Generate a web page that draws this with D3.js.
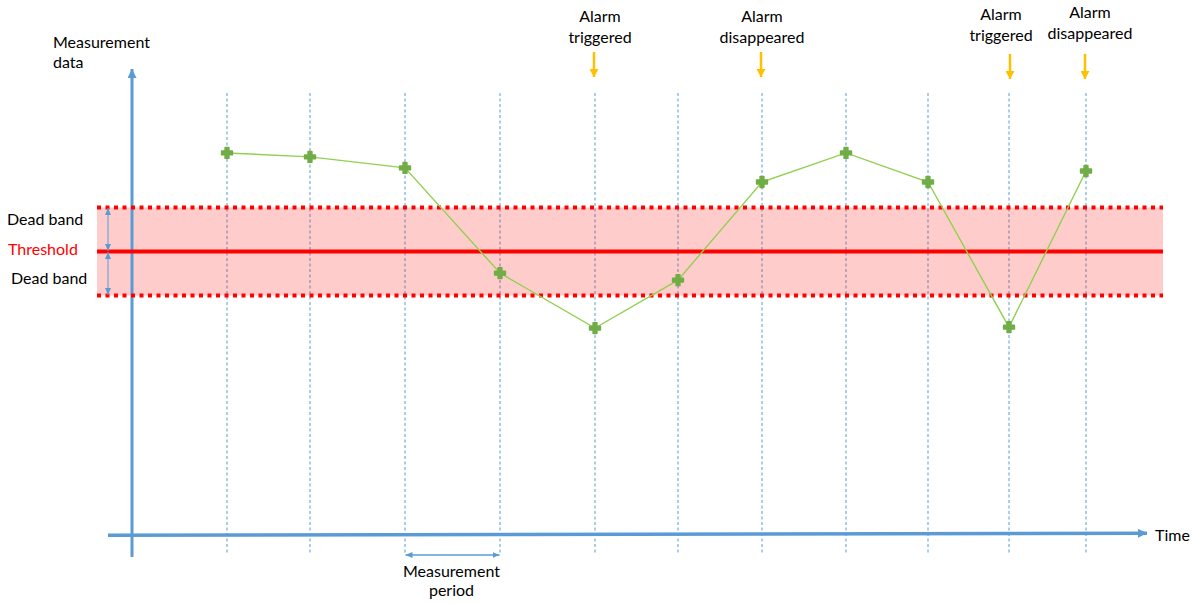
<!DOCTYPE html>
<html>
<head>
<meta charset="utf-8">
<script src="https://cdn.jsdelivr.net/npm/d3@7"></script>
<style>
  html, body { margin: 0; padding: 0; background: #fff; }
  svg { display: block; }
  text { font-family: Lato, "Open Sans", sans-serif; font-size: 16px; fill: #000; }
</style>
</head>
<body>
<svg id="chart" width="1197" height="603"></svg>
<script>
// ---- data ----
const sampleTimes = [96, 179, 274, 369, 464, 547, 631, 715, 797, 878, 955];
const measurementValues = [82.4, 81.5, 79.0, 55.1, 42.6, 53.5, 75.8, 82.4, 75.8, 42.8, 78.3];
const thresholdValue = 60;
const deadBand = 10;
const alarmSampleIndex = [4, 6, 9, 10];
const alarmLabels = [["Alarm", "triggered"], ["Alarm", "disappeared"], ["Alarm", "triggered"], ["Alarm", "disappeared"]];
const periodSamples = [2, 3];

// ---- layout ----
const W = 1197, H = 603;
const blue = "#5B9BD5", red = "#FF0000", green = "#70AD47", lineGreen = "#92D050", orange = "#FFC000";
const svg = d3.select("#chart");

const x = d3.scaleLinear().domain([0, 1000]).range([131, 1131]);
const y = d3.scaleLinear().domain([0, 100]).range([515.5, 75.5]);

const axisX0 = 132, axisYBottom = 557, axisYTop = 68;
const xAxisLeft = 108, xAxisRight = 1148, xAxisYL = 535.3, xAxisYR = 533.3;
const bandLeft = 97, bandRight = 1163;
const vTop = 93, vBottom = 555;

const defs = svg.append("defs");
function marker(id, color, w, h, orient) {
  defs.append("marker").attr("id", id)
    .attr("viewBox", `0 0 ${w} ${h}`).attr("refX", w).attr("refY", h / 2)
    .attr("markerUnits", "userSpaceOnUse")
    .attr("markerWidth", w).attr("markerHeight", h)
    .attr("orient", orient)
    .append("path").attr("d", `M0,0L${w},${h / 2}L0,${h}Z`).attr("fill", color);
}
marker("arrBig", blue, 9, 9, "auto");
marker("arrSmall", blue, 7, 6, "auto-start-reverse");
marker("arrOrange", orange, 8, 9, "auto");

// vertical dashed lines
svg.append("g").selectAll("line").data(sampleTimes).join("line")
  .attr("x1", d => x(d)).attr("x2", d => x(d))
  .attr("y1", vTop).attr("y2", vBottom)
  .attr("stroke", blue).attr("stroke-width", 1).attr("stroke-dasharray", "3,2.5");

// dead band area
const bandHi = y(thresholdValue + deadBand), bandLo = y(thresholdValue - deadBand), thrY = y(thresholdValue);
svg.append("rect").attr("x", bandLeft).attr("y", bandHi)
  .attr("width", bandRight - bandLeft).attr("height", bandLo - bandHi)
  .attr("fill", red).attr("fill-opacity", 0.2);

// y axis (drawn above band)
svg.append("line").attr("x1", axisX0).attr("x2", axisX0)
  .attr("y1", axisYBottom).attr("y2", axisYTop + 1)
  .attr("stroke", blue).attr("stroke-width", 3).attr("marker-end", "url(#arrBig)");

// dotted band edges
[thresholdValue + deadBand, thresholdValue - deadBand].forEach(v => {
  svg.append("line").attr("x1", bandLeft).attr("x2", bandRight)
    .attr("y1", y(v)).attr("y2", y(v))
    .attr("stroke", red).attr("stroke-width", 4).attr("stroke-dasharray", "4,4.5");
});
// threshold
svg.append("line").attr("x1", bandLeft).attr("x2", bandRight)
  .attr("y1", thrY).attr("y2", thrY)
  .attr("stroke", red).attr("stroke-width", 4);

// dead band arrows
[[bandHi, thrY], [thrY, bandLo]].forEach(([a, b]) => {
  svg.append("line").attr("x1", 108).attr("x2", 108)
    .attr("y1", a + 0.5).attr("y2", b - 0.5)
    .attr("stroke", blue).attr("stroke-width", 1)
    .attr("marker-start", "url(#arrSmall)").attr("marker-end", "url(#arrSmall)");
});

// x axis
svg.append("line").attr("x1", xAxisLeft).attr("x2", xAxisRight - 1)
  .attr("y1", xAxisYL).attr("y2", xAxisYR)
  .attr("stroke", blue).attr("stroke-width", 3.5).attr("marker-end", "url(#arrBig)");

// measurement line
const pts = sampleTimes.map((t, i) => [x(t), y(measurementValues[i])]);
svg.append("path").attr("d", d3.line()(pts))
  .attr("fill", "none").attr("stroke", lineGreen).attr("stroke-width", 1.4);
svg.append("g").selectAll("path").data(pts).join("path")
  .attr("transform", d => `translate(${d[0]},${d[1]})`)
  .attr("d", d3.symbol(d3.symbolCross, 62)())
  .attr("fill", green).attr("stroke", green).attr("stroke-width", 1.8).attr("stroke-linejoin", "round");

// measurement period arrow
const px0 = x(sampleTimes[periodSamples[0]]), px1 = x(sampleTimes[periodSamples[1]]);
svg.append("line").attr("x1", px0 + 0.5).attr("x2", px1 - 0.5).attr("y1", 555).attr("y2", 555)
  .attr("stroke", blue).attr("stroke-width", 1.3)
  .attr("marker-start", "url(#arrSmall)").attr("marker-end", "url(#arrSmall)");
const ptxt = svg.append("text").attr("text-anchor", "middle");
ptxt.append("tspan").attr("x", (px0 + px1) / 2 - 1).attr("y", 577).text("Measurement");
ptxt.append("tspan").attr("x", (px0 + px1) / 2 - 1).attr("y", 596).text("period");

// alarm arrows and labels
const labelDx = [5, 0, -8, 4], labelDy = [0, 0, -2, -4], arrowDx = [-1, -1, 1, -1], arrowDy = [0, 0, 2, 2];
alarmSampleIndex.forEach((si, k) => {
  const cx = x(sampleTimes[si]);
  svg.append("line").attr("x1", cx + arrowDx[k]).attr("x2", cx + arrowDx[k])
    .attr("y1", 52 + arrowDy[k]).attr("y2", 77 + arrowDy[k])
    .attr("stroke", orange).attr("stroke-width", 2.5).attr("marker-end", "url(#arrOrange)");
  const t = svg.append("text").attr("text-anchor", "middle");
  alarmLabels[k].forEach((s, j) => {
    t.append("tspan").attr("x", cx + labelDx[k]).attr("y", 22 + labelDy[k] + j * 21).text(s);
  });
});

// left labels
const ml = svg.append("text");
ml.append("tspan").attr("x", 53).attr("y", 48).text("Measurement");
ml.append("tspan").attr("x", 53).attr("y", 68).text("data");
svg.append("text").attr("x", 7).attr("y", 225).text("Dead band");
svg.append("text").attr("x", 8).attr("y", 255).style("fill", red).text("Threshold");
svg.append("text").attr("x", 11).attr("y", 284).text("Dead band");
svg.append("text").attr("x", 1155).attr("y", 541).text("Time");
</script>
</body>
</html>
